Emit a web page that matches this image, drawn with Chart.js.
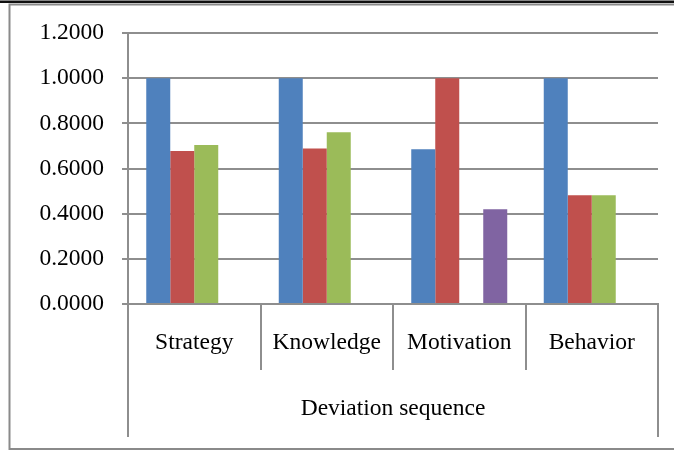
<!DOCTYPE html>
<html>
<head>
<meta charset="utf-8">
<script src="https://cdn.jsdelivr.net/npm/chart.js@4/dist/chart.umd.min.js"></script>
<style>
  html, body { margin: 0; padding: 0; background: #ffffff; }
  #wrap { width: 674px; height: 452px; position: relative; }
</style>
</head>
<body>
<div id="wrap"><canvas id="chart" width="674" height="452"></canvas></div>
<script>
// Deviation sequence categories and the four series values
const categories = ['Strategy', 'Knowledge', 'Motivation', 'Behavior'];
const series1 = [1.0, 1.0, 0.685, 1.0];
const series2 = [0.678, 0.689, 1.0, 0.482];
const series3 = [0.704, 0.760, null, 0.482];
const series4 = [null, null, 0.420, null];
const yTicks = [0, 0.2, 0.4, 0.6, 0.8, 1.0, 1.2];
const axisTitle = 'Deviation sequence';

const serif = '"Liberation Serif", "Times New Roman", "DejaVu Serif", serif';
const lineGray = '#8e8e8e';

// Page frame around the figure
const framePlugin = {
  id: 'frame',
  beforeDraw(chart) {
    const { ctx, width, height } = chart;
    ctx.save();
    ctx.fillStyle = '#ffffff';
    ctx.fillRect(0, 0, width, height);
    ctx.fillStyle = '#111111';
    ctx.fillRect(0, 0.5, width, 2.5);
    ctx.strokeStyle = '#8a8a8a';
    ctx.lineWidth = 2;
    ctx.beginPath();
    ctx.moveTo(width + 2, 4.5);
    ctx.lineTo(9.5, 4.5);
    ctx.lineTo(9.5, height - 3);
    ctx.lineTo(width + 2, height - 3);
    ctx.stroke();
    ctx.restore();
  }
};

// Outer category bracket lines running down past the axis title
const bracketPlugin = {
  id: 'bracket',
  afterDraw(chart) {
    const { ctx, chartArea } = chart;
    const x = chart.scales.x;
    const bottom = x.bottom - 15;
    ctx.save();
    ctx.strokeStyle = lineGray;
    ctx.lineWidth = 2;
    ctx.beginPath();
    [x.left, x.right].forEach(px => {
      const p = Math.round(px);
      ctx.moveTo(p, chartArea.bottom);
      ctx.lineTo(p, bottom);
    });
    ctx.stroke();
    ctx.restore();
  }
};

const mk = (label, data, color) => ({
  label, data,
  backgroundColor: color,
  borderWidth: 0,
  categoryPercentage: 0.7245,
  barPercentage: 1.0
});

new Chart(document.getElementById('chart'), {
  type: 'bar',
  data: {
    labels: categories,
    datasets: [
      mk('Series 1', series1, '#4f81bd'),
      mk('Series 2', series2, '#c0504d'),
      mk('Series 3', series3, '#9bbb59'),
      mk('Series 4', series4, '#8064a2')
    ]
  },
  options: {
    responsive: false,
    animation: false,
    devicePixelRatio: 1,
    layout: { padding: { top: 33, right: 16, bottom: 0, left: 0 } },
    plugins: {
      legend: { display: false },
      tooltip: { enabled: false }
    },
    scales: {
      x: {
        offset: true,
        afterFit(scale) { scale.height = 148; },
        grid: {
          offset: true,
          drawOnChartArea: false,
          drawTicks: true,
          tickLength: 66,
          color: lineGray,
          lineWidth: 2
        },
        border: { display: true, color: lineGray, width: 2 },
        ticks: {
          color: '#000000',
          padding: -41,
          maxRotation: 0,
          autoSkip: false,
          font: { family: serif, size: 23.5, lineHeight: 1.2 }
        },
        title: {
          display: true,
          text: axisTitle,
          color: '#000000',
          padding: { top: 0, bottom: 29 },
          font: { family: serif, size: 23.5, lineHeight: 1.2 }
        }
      },
      y: {
        min: 0,
        max: 1.2,
        afterFit(scale) { scale.width = 128; },
        afterBuildTicks(scale) { scale.ticks = yTicks.map(v => ({ value: v })); },
        grid: {
          color: lineGray,
          lineWidth: 2,
          tickLength: 6,
          drawTicks: true
        },
        border: { display: true, color: lineGray, width: 2 },
        ticks: {
          color: '#000000',
          padding: 18,
          callback: v => Number(v).toFixed(4),
          font: { family: serif, size: 23.5, lineHeight: 1.2 }
        }
      }
    }
  },
  plugins: [framePlugin, bracketPlugin]
});
</script>
</body>
</html>
